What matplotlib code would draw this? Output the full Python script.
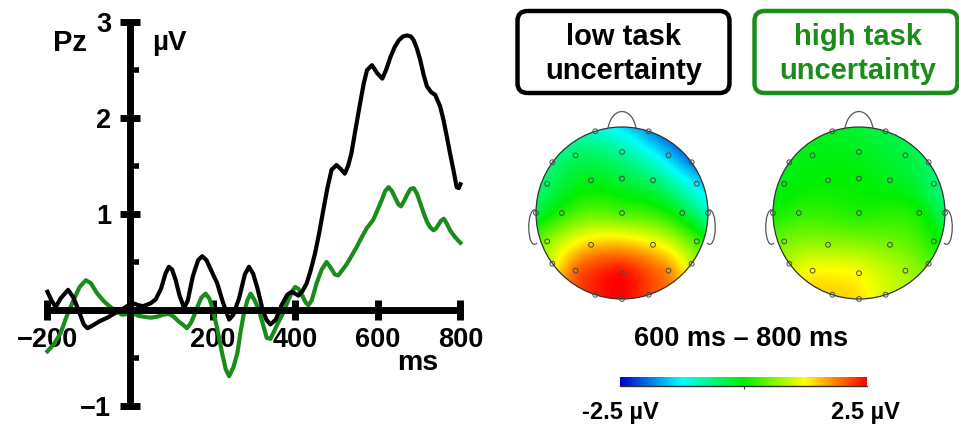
import numpy as np
import matplotlib
matplotlib.use('Agg')
import matplotlib.pyplot as plt
from matplotlib.colors import LinearSegmentedColormap, Normalize
from matplotlib.patches import Circle, FancyBboxPatch, PathPatch
from matplotlib.path import Path

plt.rcParams['font.family'] = ['Liberation Sans', 'DejaVu Sans']
plt.rcParams['font.weight'] = 'bold'

# ---------------- data ----------------
low_t = [-200, -190, -180, -168, -150, -137, -125, -112, -103, -90, -75, -55, -35, -14, 0, 8, 20, 32, 50,
         62, 75, 86, 94, 102, 110, 120, 131, 140, 152, 165, 175, 185, 200, 211, 225, 240, 250, 264, 278,
         288, 298, 309, 320, 330, 340, 353, 367, 381, 392, 400, 408, 418, 428, 438, 448, 458, 468, 478,
         488, 500, 510, 520, 528, 536, 546, 557, 566, 574, 586, 598, 611, 620, 631, 641, 651, 661, 671,
         680, 687, 695, 703, 711, 719, 729, 739, 751, 759, 767, 775, 783, 791, 796, 800]
low_v = [0.19, 0.10, 0.03, 0.12, 0.21, 0.13, 0.00, -0.15, -0.19, -0.16, -0.12, -0.08, -0.03, 0.02, 0.06,
         0.07, 0.05, 0.04, 0.07, 0.11, 0.22, 0.38, 0.45, 0.42, 0.32, 0.15, 0.02, 0.10, 0.35, 0.52, 0.56,
         0.52, 0.38, 0.28, 0.08, -0.10, -0.05, 0.12, 0.37, 0.45, 0.38, 0.22, 0.02, -0.10, -0.15, -0.10,
         0.05, 0.16, 0.19, 0.17, 0.15, 0.20, 0.28, 0.42, 0.59, 0.80, 1.04, 1.27, 1.46, 1.51, 1.47, 1.42,
         1.50, 1.63, 1.88, 2.15, 2.36, 2.50, 2.55, 2.47, 2.41, 2.50, 2.64, 2.74, 2.81, 2.85, 2.86, 2.85,
         2.81, 2.72, 2.60, 2.45, 2.33, 2.27, 2.24, 2.12, 1.98, 1.81, 1.63, 1.46, 1.28, 1.27, 1.31]

high_t = [-200, -185, -168, -152, -137, -122, -107, -95, -79, -63, -47, -33, -19, -5, 5, 20, 33, 50, 65,
          80, 94, 106, 118, 130, 138, 148, 156, 163, 173, 183, 192, 199, 210, 223, 232, 240, 250, 260,
          268, 276, 284, 292, 302, 312, 322, 331, 340, 347, 360, 371, 385, 395, 400, 408, 416, 425, 432,
          440, 452, 464, 476, 486, 496, 504, 515, 525, 536, 548, 560, 573, 589, 600, 610, 618, 626, 634,
          642, 650, 656, 663, 671, 679, 687, 695, 703, 711, 719, 727, 735, 741, 747, 753, 760, 767, 775,
          787, 800]
high_v = [-0.43, -0.36, -0.24, -0.05, 0.10, 0.24, 0.31, 0.28, 0.17, 0.09, 0.03, -0.01, -0.05, -0.04,
          -0.03, -0.06, -0.07, -0.08, -0.07, -0.05, -0.04, -0.07, -0.12, -0.16, -0.19, -0.13, -0.05,
          0.03, 0.13, 0.17, 0.12, 0.03, -0.17, -0.45, -0.62, -0.69, -0.60, -0.45, -0.22, -0.03, 0.10,
          0.17, 0.10, 0.00, -0.15, -0.29, -0.30, -0.24, -0.12, -0.03, 0.12, 0.21, 0.24, 0.22, 0.16,
          0.08, 0.05, 0.10, 0.28, 0.42, 0.50, 0.44, 0.37, 0.36, 0.42, 0.48, 0.56, 0.65, 0.75, 0.85,
          0.94, 1.05, 1.15, 1.24, 1.28, 1.24, 1.17, 1.10, 1.08, 1.13, 1.20, 1.26, 1.27, 1.21, 1.11,
          1.01, 0.92, 0.86, 0.83, 0.85, 0.89, 0.93, 0.95, 0.90, 0.83, 0.76, 0.70]

x_ticks = [-200, 200, 400, 600, 800]
x_ticklabels = ['\u2212200', '200', '400', '600', '800']
y_ticks = [-1, 1, 2, 3]
y_ticklabels = ['\u22121', '1', '2', '3']
y_minor = [-0.5, 0.5, 1.5, 2.5]

electrodes = ['Fp1', 'Fp2', 'F7', 'F3', 'Fz', 'F4', 'F8', 'FC5', 'FC1', 'FCz', 'FC2', 'FC6',
              'T7', 'C3', 'Cz', 'C4', 'T8', 'CP5', 'CP1', 'CP2', 'CP6',
              'P7', 'P3', 'Pz', 'P4', 'P8', 'O1', 'Oz', 'O2']
elec_x = [-0.31, 0.31, -0.81, -0.54, 0.0, 0.54, 0.81, -0.87, -0.36, 0.0, 0.36, 0.87,
          -1.0, -0.70, 0.0, 0.70, 1.0, -0.87, -0.36, 0.36, 0.87,
          -0.81, -0.54, 0.0, 0.54, 0.81, -0.31, 0.0, 0.31]
elec_y = [0.95, 0.95, 0.59, 0.67, 0.71, 0.67, 0.59, 0.34, 0.38, 0.40, 0.38, 0.34,
          0.0, 0.0, 0.0, 0.0, 0.0, -0.33, -0.37, -0.37, -0.33,
          -0.59, -0.67, -0.70, -0.67, -0.59, -0.95, -1.0, -0.95]
topo_low = [-1.0, -1.75, -0.6, -0.45, -0.75, -1.5, -1.9, -0.45, -0.1, -0.3, -0.5, -1.3,
            -0.35, 0.15, 0.3, -0.2, -0.95, 0.8, 1.5, 1.3, 0.4,
            1.0, 2.1, 2.5, 1.9, 0.9, 2.3, 2.5, 2.1]
topo_high = [-0.15, -0.35, -0.1, -0.1, -0.15, -0.3, -0.45, -0.1, 0.0, 0.0, -0.15, -0.55,
             0.05, 0.25, 0.1, 0.15, -0.5, 0.6, 0.7, 0.55, 0.1,
             0.9, 1.3, 1.25, 0.85, 0.45, 1.45, 1.4, 1.0]

cond_labels = ['low task\nuncertainty', 'high task\nuncertainty']
cond_colors = ['black', '#1a8c1a']
window_label = '600 ms \u2013 800 ms'
cbar_min, cbar_max = -2.5, 2.5
cbar_labels = ['-2.5 \u00b5V', '2.5 \u00b5V']

# ---------------- figure ----------------
W, H = 959, 425
fig = plt.figure(figsize=(W / 100, H / 100), dpi=100)


def px_axes(x0, y0, x1, y1):
    return fig.add_axes([x0 / W, 1 - y1 / H, (x1 - x0) / W, (y1 - y0) / H])


# ERP panel: 0 ms at px 130, 0.413 px/ms ; 0 uV at py 310, 96 px/uV
ax = px_axes(20, 10, 480, 420)
ax.set_xlim((20 - 130) / 0.413, (480 - 130) / 0.413)
ax.set_ylim((310 - 420) / 96, (310 - 10) / 96)
ax.patch.set_alpha(0)

ax.plot(high_t, high_v, color=cond_colors[1], lw=3.0, solid_joinstyle='round', zorder=2)
ax.plot(low_t, low_v, color=cond_colors[0], lw=3.0, solid_joinstyle='round', zorder=2.1)

for s in ['top', 'right']:
    ax.spines[s].set_visible(False)
ax.spines['left'].set_position(('data', 0))
ax.spines['bottom'].set_position(('data', 0))
ax.spines['left'].set_bounds(-1, 3)
ax.spines['bottom'].set_bounds(-200, 800)
for s in ['left', 'bottom']:
    ax.spines[s].set_linewidth(5)
    ax.spines[s].set_zorder(3)
    ax.spines[s].set_capstyle('butt')

ax.set_xticks(x_ticks)
ax.set_xticklabels(x_ticklabels)
ax.set_yticks(y_ticks)
ax.set_yticklabels(y_ticklabels)
ax.set_yticks(y_minor, minor=True)
ax.tick_params(axis='x', which='major', direction='inout', length=14, width=5, pad=5,
               labelsize=19.5)
ax.tick_params(axis='y', which='major', direction='inout', length=15, width=5, pad=6,
               labelsize=19.5)
ax.tick_params(axis='y', which='minor', direction='in', length=6.5, width=4)
for t in ax.get_xticklabels() + ax.get_yticklabels():
    t.set_fontweight('bold')

# overlay for free texts/boxes (pixel coordinates)
ov = fig.add_axes([0, 0, 1, 1], zorder=5)
ov.set_xlim(0, W)
ov.set_ylim(H, 0)
ov.axis('off')

ov.text(70, 43, 'Pz', fontsize=21, ha='center', va='center', fontweight='bold')
ov.text(152, 43, '\u00b5V', fontsize=20, ha='left', va='center', fontweight='bold')
ov.text(418, 363, 'ms', fontsize=20.5, ha='center', va='center', fontweight='bold')

# legend boxes
box_specs = [(517.5, 11, 212, 82, 623.5), (754.5, 11, 203, 82, 857.5)]
for (bx, by, bw, bh, tcx), lab, col in zip(box_specs, cond_labels, cond_colors):
    ov.add_patch(FancyBboxPatch((bx, by), bw, bh, boxstyle='round,pad=0,rounding_size=10',
                                lw=3.2, ec=col, fc='none'))
    l1, l2 = lab.split('\n')
    ov.text(tcx, 45, l1, fontsize=21, ha='center', va='baseline', color=col, fontweight='bold')
    ov.text(tcx, 79, l2, fontsize=21, ha='center', va='baseline', color=col, fontweight='bold')

ov.text(741, 339, window_label, fontsize=19.5, ha='center', va='center', fontweight='bold')
ov.text(620, 413, cbar_labels[0], fontsize=17, ha='center', va='center', fontweight='bold')
ov.text(865, 413, cbar_labels[1], fontsize=17, ha='center', va='center', fontweight='bold')

# ---------------- topomaps ----------------
cmap = LinearSegmentedColormap.from_list(
    'bva', [(0.0, '#0000d0'), (0.25, '#00ffff'), (0.5, '#00f000'), (0.75, '#ffff00'), (1.0, '#ff0000')])
norm = Normalize(cbar_min, cbar_max)

tax = px_axes(500, 100, 959, 310)
tax.set_xlim(500, 959)
tax.set_ylim(310, 100)
tax.axis('off')

ex = np.array(elec_x)
ey = np.array(elec_y)


def tps(vals, gx, gy):
    n = len(ex)
    d = np.hypot(ex[:, None] - ex[None, :], ey[:, None] - ey[None, :])
    with np.errstate(divide='ignore', invalid='ignore'):
        K = np.where(d > 0, d ** 2 * np.log(d), 0.0)
    P = np.column_stack([np.ones(n), ex, ey])
    A = np.zeros((n + 3, n + 3))
    A[:n, :n] = K + 0.05 * np.eye(n)
    A[:n, n:] = P
    A[n:, :n] = P.T
    b = np.concatenate([np.asarray(vals, float), np.zeros(3)])
    c = np.linalg.solve(A, b)
    dg = np.hypot(gx[..., None] - ex, gy[..., None] - ey)
    with np.errstate(divide='ignore', invalid='ignore'):
        Kg = np.where(dg > 0, dg ** 2 * np.log(dg), 0.0)
    return Kg @ c[:n] + c[n] + c[n + 1] * gx + c[n + 2] * gy


g = np.linspace(-1, 1, 241)
GX, GY = np.meshgrid(g, g[::-1])
R = 86
for cx, vals in zip([622, 859], [topo_low, topo_high]):
    cy = 213
    Z = tps(vals, GX, GY)
    im = tax.imshow(Z, cmap=cmap, norm=norm, extent=(cx - R, cx + R, cy + R, cy - R),
                    origin='upper', interpolation='bilinear', zorder=1)
    clip = Circle((cx, cy), R, transform=tax.transData)
    im.set_clip_path(clip)
    tax.add_patch(Circle((cx, cy), R, fill=False, ec='#333333', lw=0.9, zorder=3))
    # nose
    yb = cy - np.sqrt(R ** 2 - 14 ** 2)
    nose = Path([(cx - 14, yb), (cx - 10, cy - R - 21), (cx + 10, cy - R - 21), (cx + 14, yb)],
                [Path.MOVETO, Path.CURVE4, Path.CURVE4, Path.CURVE4])
    tax.add_patch(PathPatch(nose, fill=False, ec='#555555', lw=0.9, zorder=3))
    # ears
    for sgn in (-1, 1):
        ear = Path([(cx + sgn * (R - 1), cy - 3), (cx + sgn * (R + 11), cy - 8),
                    (cx + sgn * (R + 9), cy + 40), (cx + sgn * (R - 1), cy + 30)],
                   [Path.MOVETO, Path.CURVE4, Path.CURVE4, Path.CURVE4])
        tax.add_patch(PathPatch(ear, fill=False, ec='#555555', lw=0.9, zorder=3))
    for x, y in zip(elec_x, elec_y):
        tax.add_patch(Circle((cx + x * R, cy - y * R), 2.4, fill=False, ec='#4a4a4a', lw=0.7, zorder=4))

# colorbar
cax = px_axes(620, 377, 867, 386)
grad = np.linspace(cbar_min, cbar_max, 256)[None, :]
cax.imshow(grad, cmap=cmap, norm=norm, aspect='auto', extent=(cbar_min, cbar_max, 0, 1))
for s in ['top', 'left', 'right']:
    cax.spines[s].set_visible(False)
cax.spines['bottom'].set_linewidth(1.0)
cax.spines['bottom'].set_color('#333333')
cax.set_yticks([])
cax.set_xticks([0])
cax.set_xticklabels([])
cax.tick_params(axis='x', length=2, width=0.8, color='#333333')

fig.savefig('out.png', dpi=100)
